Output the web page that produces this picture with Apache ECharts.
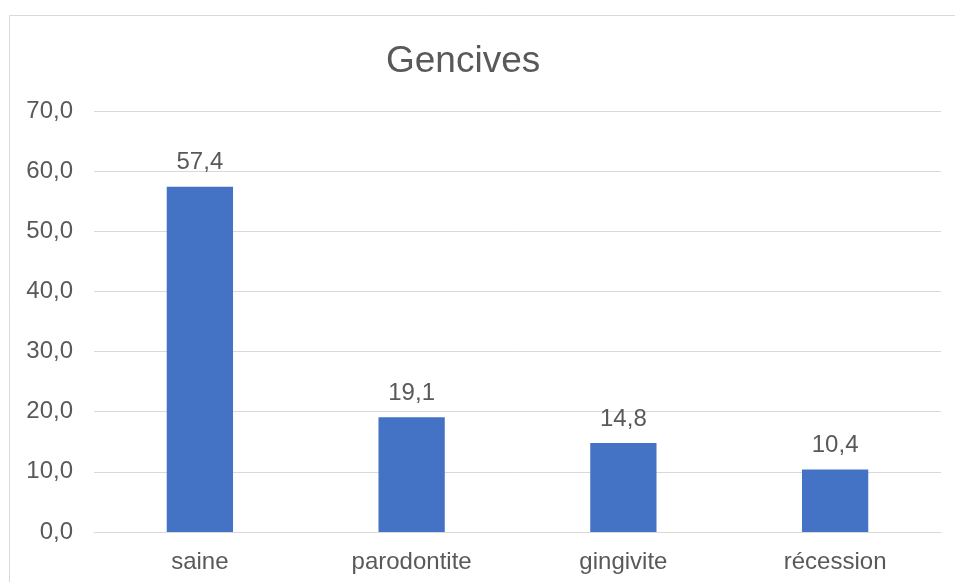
<!DOCTYPE html>
<html>
<head>
<meta charset="utf-8">
<script src="https://cdn.jsdelivr.net/npm/echarts@6/dist/echarts.min.js"></script>
<style>
  html, body { margin: 0; padding: 0; background: #ffffff; }
  #chart { width: 955px; height: 582px; }
</style>
</head>
<body>
<div id="chart"></div>
<script>
// Gum condition distribution (%)
const categories = ['saine', 'parodontite', 'gingivite', 'récession'];
const values = [57.4, 19.1, 14.8, 10.4];
const chartTitle = 'Gencives';

const fmt = v => Number(v).toFixed(1).replace('.', ',');
const textColor = '#595959';
const fontFamily = '"Liberation Sans", Arial, sans-serif';

const chart = echarts.init(document.getElementById('chart'), null, { renderer: 'canvas' });
chart.setOption({
  backgroundColor: '#ffffff',
  animation: false,
  title: {
    text: chartTitle,
    left: 386,
    top: 43,
    padding: 0,
    textStyle: { color: textColor, fontSize: 37, fontWeight: 'normal', fontFamily: fontFamily }
  },
  graphic: [{
    type: 'rect',
    shape: { x: 9.5, y: 15.5, width: 1000, height: 1000 },
    style: { fill: 'none', stroke: '#d9d9d9', lineWidth: 1 },
    silent: true,
    z: -1
  }],
  grid: { left: 94, right: 14, top: 111, bottom: 50, containLabel: false },
  xAxis: {
    type: 'category',
    data: categories,
    axisLine: { show: true, lineStyle: { color: '#d9d9d9', width: 1 } },
    axisTick: { show: false },
    axisLabel: { color: textColor, fontSize: 24, fontFamily: fontFamily, margin: 18 }
  },
  yAxis: {
    type: 'value',
    min: 0,
    max: 70,
    interval: 10,
    axisLine: { show: false },
    axisTick: { show: false },
    splitLine: { show: true, lineStyle: { color: '#d9d9d9', width: 1 } },
    axisLabel: { color: textColor, fontSize: 24, fontFamily: fontFamily, margin: 21, formatter: fmt }
  },
  series: [{
    type: 'bar',
    data: values,
    barWidth: '31.3%',
    itemStyle: { color: '#4472C4' },
    label: {
      show: true,
      position: 'top',
      distance: 12,
      color: textColor,
      fontSize: 24,
      fontFamily: fontFamily,
      formatter: p => fmt(p.value)
    }
  }]
});
</script>
</body>
</html>
